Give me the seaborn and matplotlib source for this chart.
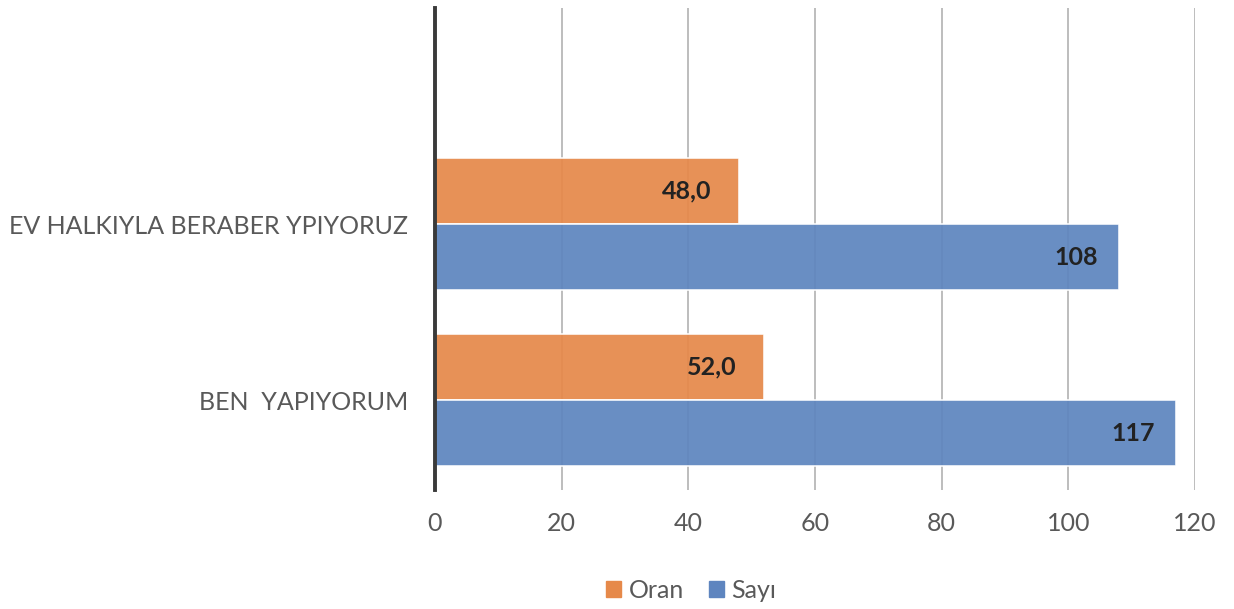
import pandas as pd
import numpy as np
import matplotlib
matplotlib.use("Agg")
import matplotlib.pyplot as plt
import seaborn as sns

# data
categories = ["EV HALKIYLA BERABER YPIYORUZ", "BEN  YAPIYORUM"]
oran = [48.0, 52.0]
sayi = [108, 117]
series = ["Oran", "Sayı"]

df = pd.DataFrame({
    "Kategori": categories * 2,
    "Deger": oran + sayi,
    "Seri": [series[0]] * 2 + [series[1]] * 2,
})

sns.set_style("white")
plt.rcParams["font.family"] = ["Lato", "DejaVu Sans"]

fig = plt.figure(figsize=(12.34, 6.09), dpi=100)
ax = fig.add_axes([0.3525, 0.1954, 0.6159, 0.7915])

colors = {"Oran": "#E6894A", "Sayı": "#5E85BF"}
ax.grid(axis="x", color="#bdbdbd", linewidth=1.4)
ax.set_axisbelow(True)
sns.barplot(data=df, x="Deger", y="Kategori", hue="Seri", orient="h",
            palette=colors, saturation=1, width=0.75, edgecolor="white",
            linewidth=1.2, alpha=0.93, ax=ax)

ax.set_xlim(0, 120)
ax.set_ylim(1.51, -1.23)
ax.set_xticks(np.arange(0, 121, 20))
ax.set_xlabel("")
ax.set_ylabel("")
for s in ["top", "right", "bottom"]:
    ax.spines[s].set_visible(False)
ax.spines["left"].set_color("#3a3a3a")
ax.spines["left"].set_linewidth(2.8)
ax.spines["left"].set_zorder(6)
ax.tick_params(axis="both", length=0, labelsize=18, labelcolor="#595959")
ax.tick_params(axis="x", pad=16)
ax.tick_params(axis="y", pad=19)

# value labels
for cont, lab in zip(ax.containers, series):
    for p in cont:
        w = p.get_width()
        txt = f"{w:.1f}".replace(".", ",") if lab == "Oran" else f"{int(round(w))}"
        pad = -20 if lab == "Oran" else -15
        ax.annotate(txt, (p.get_x() + w, p.get_y() + p.get_height() / 2),
                    xytext=(pad, 0), textcoords="offset points",
                    ha="right", va="center", fontsize=18, fontweight="bold",
                    color="#222222", zorder=7)

ax.legend_.remove()
handles = [plt.Rectangle((0, 0), 1, 1, color=colors[s]) for s in series]
fig.legend(handles, series, loc="center", bbox_to_anchor=(0.56, 0.03),
           ncol=2, frameon=False, fontsize=18, handlelength=0.6, handleheight=0.6,
           handletextpad=0.3, columnspacing=1.0, labelcolor="#595959")

fig.savefig("out.png", dpi=100)
